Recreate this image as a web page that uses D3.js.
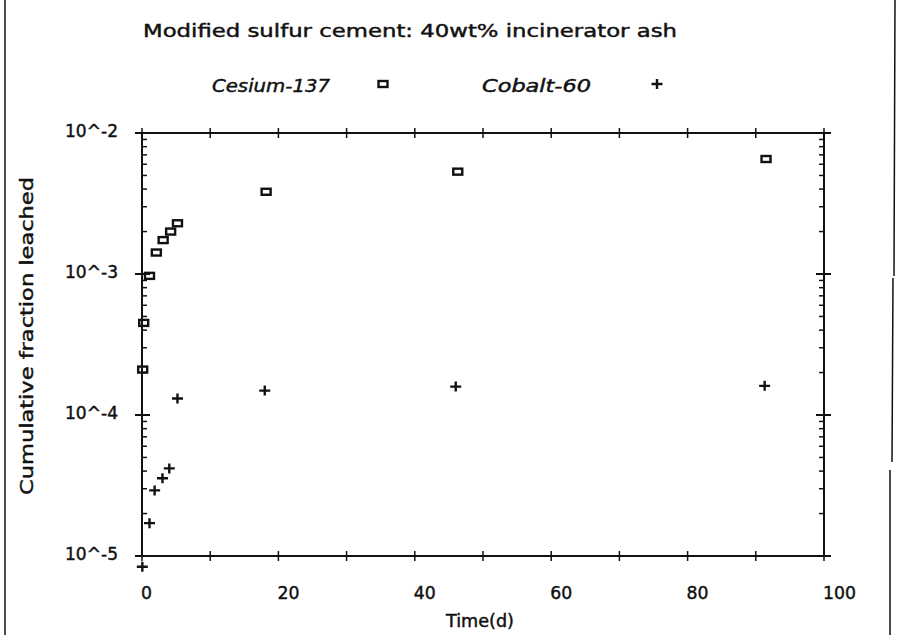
<!DOCTYPE html>
<html>
<head>
<meta charset="utf-8">
<script src="https://cdn.jsdelivr.net/npm/d3@7"></script>
<style>
  html, body { margin: 0; padding: 0; background: #fff; }
  svg { display: block; }
  text { font-family: "DejaVu Sans", sans-serif; fill: #111; stroke: #111; stroke-width: 0.45px; }
</style>
</head>
<body>
<div class="chart"></div>
<script>
// Data
const cesiumDays = [0.1, 0.25, 1.1, 2.1, 3.1, 4.2, 5.2, 18.2, 46.3, 91.5];
const cesiumFrac = [2.1e-4, 4.5e-4, 9.7e-4, 1.42e-3, 1.74e-3, 2.0e-3, 2.29e-3, 3.83e-3, 5.32e-3, 6.54e-3];

const cobaltDays = [0.05, 1.1, 1.85, 3.0, 4.0, 5.2, 18.0, 46.0, 91.3];
const cobaltFrac = [8.4e-6, 1.71e-5, 2.92e-5, 3.56e-5, 4.18e-5, 1.31e-4, 1.49e-4, 1.59e-4, 1.61e-4];

const xTickValues = [0, 20, 40, 60, 80, 100];
const yTickLabels = ["10^-5", "10^-4", "10^-3", "10^-2"];
const yTickValues = [1e-5, 1e-4, 1e-3, 1e-2];

const titleText = "Modified sulfur cement: 40wt% incinerator ash";
const legendNames = ["Cesium-137", "Cobalt-60"];

const W = 898, H = 635;
const plot = { left: 142, right: 824, top: 133, bottom: 556 };

const svg = d3.select(".chart").append("svg").attr("width", W).attr("height", H);

const x = d3.scaleLinear().domain([0, 100]).range([plot.left, plot.right]);
const y = d3.scaleLog().domain([1e-5, 1e-2]).range([plot.bottom, plot.top]);

const ink = "#111";

// scan frame lines
svg.append("line").attr("x1", 5).attr("x2", 5).attr("y1", 0).attr("y2", H)
  .attr("stroke", ink).attr("stroke-width", 1.5);
svg.append("path").attr("d", "M895,0 L894,276 M893,278 L892,462 M890,470 L890,635")
  .attr("stroke", ink).attr("stroke-width", 1.5).attr("fill", "none");

// frame of the plot
const frame = svg.append("g").attr("stroke", ink).attr("stroke-width", 2).attr("fill", "none");
frame.append("rect")
  .attr("x", plot.left).attr("y", plot.top)
  .attr("width", plot.right - plot.left).attr("height", plot.bottom - plot.top);

// x ticks every 10 on top and bottom, crossing the line
d3.range(0, 101, 10).forEach(v => {
  [plot.top, plot.bottom].forEach(yy => {
    frame.append("line").attr("x1", x(v)).attr("x2", x(v))
      .attr("y1", yy - 5).attr("y2", yy + 5).attr("stroke-width", 1.5);
  });
});

// y ticks: decades cross the axis, 2..9 point inward
y.ticks().forEach(v => {
  const major = Math.abs(Math.log10(v) - Math.round(Math.log10(v))) < 1e-9;
  const yy = y(v);
  if (major) {
    frame.append("line").attr("x1", plot.left - 7).attr("x2", plot.left + 8).attr("y1", yy).attr("y2", yy);
    frame.append("line").attr("x1", plot.right - 8).attr("x2", plot.right + 7).attr("y1", yy).attr("y2", yy);
  } else {
    frame.append("line").attr("x1", plot.left).attr("x2", plot.left + 5).attr("y1", yy).attr("y2", yy).attr("stroke-width", 1.5);
    frame.append("line").attr("x1", plot.right - 5).attr("x2", plot.right).attr("y1", yy).attr("y2", yy).attr("stroke-width", 1.5);
  }
});

// tick labels
svg.append("g").selectAll("text")
  .data(xTickValues)
  .join("text")
  .attr("x", d => x(d) - 1)
  .attr("y", 599)
  .attr("font-size", 18)
  .attr("textLength", d => String(d).length * 11)
  .attr("lengthAdjust", "spacingAndGlyphs")
  .text(d => d);

svg.append("g").selectAll("text")
  .data(yTickValues)
  .join("text")
  .attr("x", 118)
  .attr("y", d => y(d) + 4)
  .attr("text-anchor", "end")
  .attr("font-size", 18)
  .attr("textLength", 53)
  .attr("lengthAdjust", "spacingAndGlyphs")
  .text((d, i) => yTickLabels[i]);

// titles
svg.append("text")
  .attr("x", 143).attr("y", 37)
  .attr("font-size", 18)
  .attr("textLength", 534).attr("lengthAdjust", "spacingAndGlyphs")
  .text(titleText);

svg.append("text")
  .attr("x", 446).attr("y", 627)
  .attr("font-size", 17)
  .attr("textLength", 68).attr("lengthAdjust", "spacingAndGlyphs")
  .text("Time(d)");

svg.append("text")
  .attr("transform", "translate(33,336) rotate(-90)")
  .attr("text-anchor", "middle")
  .attr("font-size", 18)
  .attr("textLength", 318).attr("lengthAdjust", "spacingAndGlyphs")
  .text("Cumulative fraction leached");

// markers
function square(g, cx, cy) {
  g.append("rect").attr("x", cx - 4.5).attr("y", cy - 3)
    .attr("width", 9).attr("height", 6)
    .attr("fill", "none").attr("stroke", ink).attr("stroke-width", 2.4);
}
function plus(g, cx, cy) {
  g.append("path").attr("d", `M${cx - 5.5},${cy} H${cx + 5.5} M${cx},${cy - 5} V${cy + 5}`)
    .attr("stroke", ink).attr("stroke-width", 2.4).attr("fill", "none");
}

const marks = svg.append("g");
cesiumDays.forEach((d, i) => square(marks, x(d), y(cesiumFrac[i])));
cobaltDays.forEach((d, i) => plus(marks, x(d), y(cobaltFrac[i])));

// legend
const legend = svg.append("g");
legend.append("text").attr("x", 212).attr("y", 92)
  .attr("font-size", 18).attr("font-style", "italic")
  .attr("textLength", 118).attr("lengthAdjust", "spacingAndGlyphs")
  .text(legendNames[0]);
square(legend, 383, 84);
legend.append("text").attr("x", 482).attr("y", 92)
  .attr("font-size", 18).attr("font-style", "italic")
  .attr("textLength", 109).attr("lengthAdjust", "spacingAndGlyphs")
  .text(legendNames[1]);
plus(legend, 657, 84);
</script>
</body>
</html>
